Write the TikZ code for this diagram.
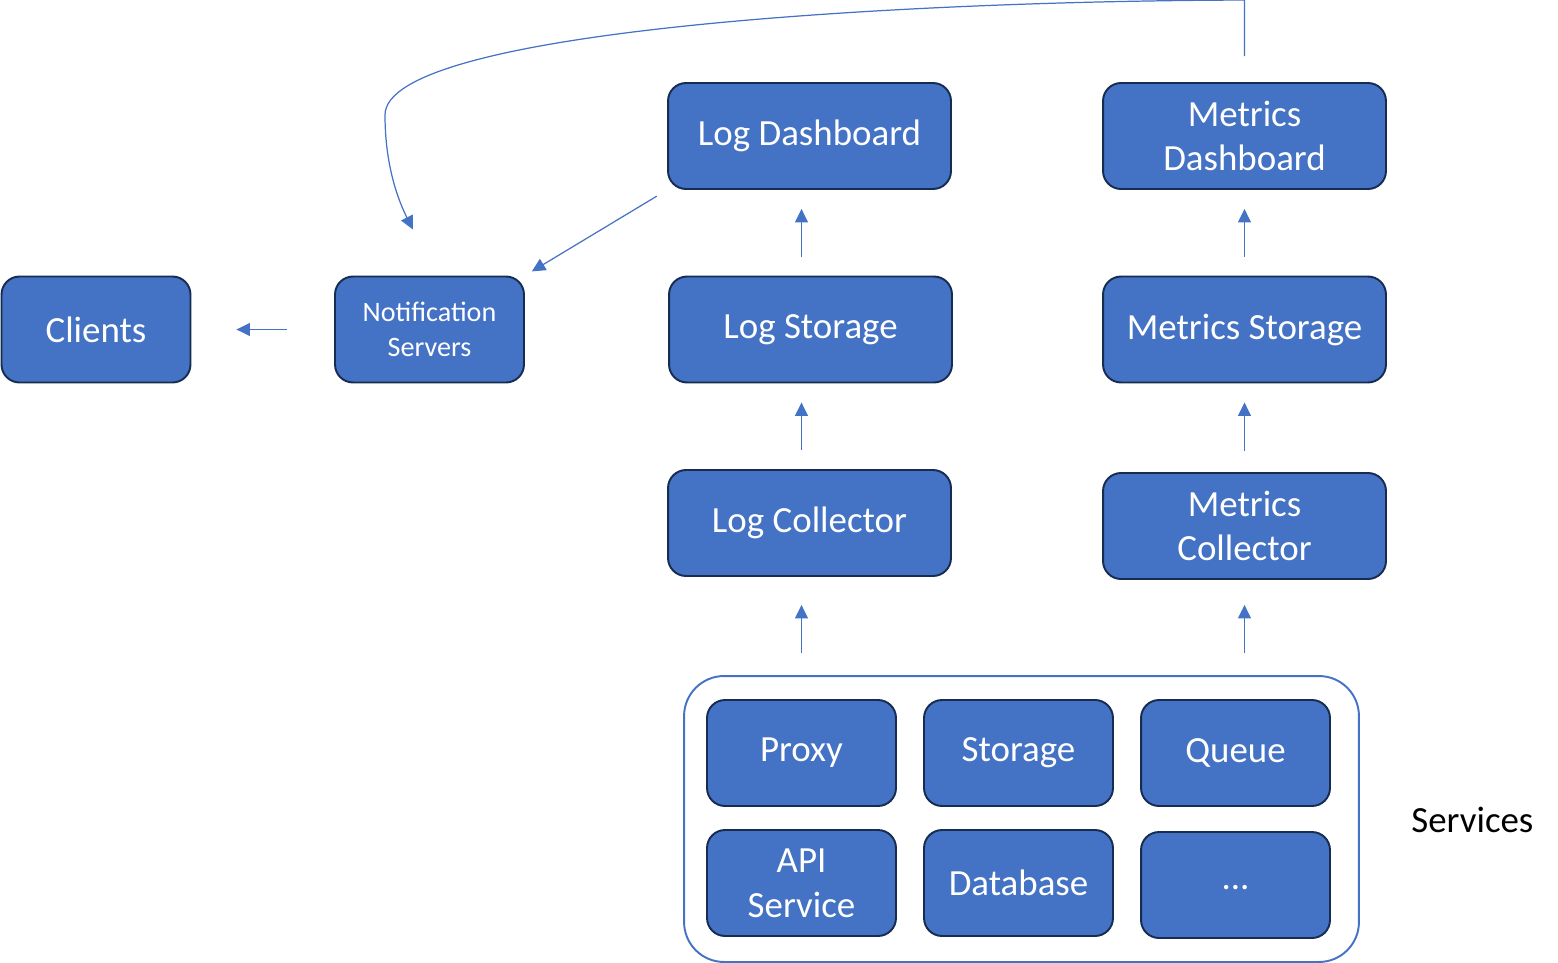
\documentclass[tikz,border=0pt]{standalone}
\usepackage{fontspec}
\setmainfont{Carlito}
\usetikzlibrary{arrows.meta}
\definecolor{boxblue}{HTML}{4472C4}
\definecolor{boxedge}{HTML}{172C51}

\begin{document}
\begin{tikzpicture}[x=0.02cm, y=-0.02cm, >={Triangle[length=0.27cm,width=0.26cm]},
    every node/.style={font=\fontsize{21}{25.5}\selectfont},
    block/.style={rectangle, rounded corners=0.36cm, draw=boxedge, line width=1.1pt,
      fill=boxblue, text=white, align=center, inner sep=0pt,
      minimum width=5.66cm, minimum height=2.12cm},
    small/.style={block, minimum width=3.78cm},
    group/.style={rectangle, rounded corners=0.8cm, draw=boxblue, line width=1.1pt,
      minimum width=13.5cm, minimum height=5.72cm, inner sep=0pt},
    flow/.style={->, draw=boxblue, line width=0.7pt, shorten <=0.38cm, shorten >=0.38cm}]
      \useasboundingbox (0,0) rectangle (1558,963);

      % Dashboards
      \node[block] (ld) at (809.5,136) {\raisebox{-0.06cm}{Log Dashboard}};
      \node[block] (md) at (1244.5,136) {Metrics\\Dashboard};

      % Clients, notification and storage
      \node[small] (cl) at (96,329.5) {Clients};
      \node[small, font=\fontsize{16}{20}\selectfont] (ns) at (429.5,329.5) {Notification\\Servers};
      \node[block] (ls) at (810.5,329.5) {\raisebox{-0.06cm}{Log Storage}};
      \node[block] (ms) at (1244.5,329.5) {\raisebox{-0.06cm}{Metrics Storage}};

      % Collectors
      \node[block] (lc) at (809.5,523) {\raisebox{-0.06cm}{Log Collector}};
      \node[block] (mc) at (1244.5,526) {Metrics\\Collector};

      % Services
      \node[group] (svc) at (1021.5,819) {};
      \node[small] (prx) at (801.5,753) {\raisebox{-0.06cm}{Proxy}};
      \node[small] (sto) at (1018.5,753) {\raisebox{-0.06cm}{Storage}};
      \node[small] (que) at (1235.5,753) {\raisebox{-0.06cm}{Queue}};
      \node[small] (api) at (801.5,883) {API\\Service};
      \node[small] (db) at (1018.5,883) {Database};
      \node[small] (etc) at (1235.5,885) {\raisebox{-0.18cm}{...}};
      \node[anchor=west, inner sep=0pt] (svclbl) at (1411,820) {Services};

      \coordinate (nsin) at ([xshift=-0.33cm, yshift=0.92cm]ns.north);

      % Arrows
      \draw[flow, shorten <=0.44cm, shorten >=0.56cm] (svc.north -| prx) -- (lc.south -| prx);
      \draw[flow, shorten <=0.44cm, shorten >=0.5cm] (svc.north -| mc) -- (mc.south);
      \draw[flow] (lc.north -| prx) -- (ls.south -| prx);
      \draw[flow] (ls.north -| prx) -- (ld.south -| prx);
      \draw[flow, shorten <=0.42cm] (mc.north) -- (ms.south);
      \draw[flow] (ms.north) -- (md.south);
      \draw[flow, shorten <=0.94cm, shorten >=0.9cm] (ns.west) -- (cl.east);
      \draw[flow, shorten <=0.24cm, shorten >=0.16cm] (ld.south west) -- (ns.north east);
      \draw[flow, shorten <=0.52cm, shorten >=0pt] (md.north) -- ++(0,-82)
        .. controls (900,1) and (385,30) .. (385,115)
        .. controls (385,165) and (398,200) .. (nsin);
    \end{tikzpicture}
\end{document}
